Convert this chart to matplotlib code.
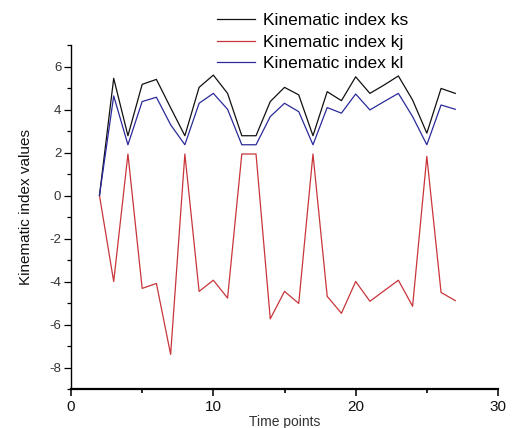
import matplotlib
matplotlib.use("Agg")
import matplotlib.pyplot as plt
from matplotlib.ticker import MultipleLocator

plt.rcParams['font.family'] = ['Liberation Sans', 'DejaVu Sans']
plt.rcParams['axes.unicode_minus'] = False

x = list(range(2, 28))
ks = [0, 5.45, 2.78, 5.17, 5.40, 4.08, 2.78, 5.03, 5.60, 4.75,
      2.78, 2.78, 4.37, 5.03, 4.68, 2.78, 4.83, 4.41, 5.52, 4.75,
      5.14, 5.56, 4.44, 2.90, 4.98, 4.75]
kj = [0, -4.00, 1.93, -4.32, -4.09, -7.39, 1.93, -4.46, -3.94, -4.77,
      1.93, 1.93, -5.74, -4.46, -5.02, 1.93, -4.69, -5.48, -4.00, -4.92,
      -4.43, -3.94, -5.15, 1.82, -4.51, -4.89]
kl = [0, 4.63, 2.36, 4.37, 4.57, 3.29, 2.36, 4.29, 4.75, 4.01,
      2.36, 2.36, 3.67, 4.29, 3.90, 2.36, 4.09, 3.83, 4.72, 3.98,
      4.37, 4.75, 3.67, 2.36, 4.21, 4.01]
labels = ["Kinematic index ks", "Kinematic index kj", "Kinematic index kl"]

fig = plt.figure(figsize=(5.15, 4.28), dpi=100)
ax = fig.add_axes([71/515, 1-389/428, (498-71)/515, (389-45)/428])

l1, = ax.plot(x, ks, color='#111111', lw=0.9)
l2, = ax.plot(x, kj, color='#c8353a', lw=0.9)
l3, = ax.plot(x, kl, color='#2a2a9a', lw=0.9)

ax.set_xlim(0, 30)
ax.set_ylim(-9, 7)
ax.xaxis.set_major_locator(MultipleLocator(10))
ax.xaxis.set_minor_locator(MultipleLocator(5))
ax.yaxis.set_minor_locator(MultipleLocator(1))
ax.set_yticks([-8, -6, -4, -2, 0, 2, 4, 6])

for s in ['top', 'right']:
    ax.spines[s].set_visible(False)
ax.spines['left'].set_linewidth(1.0)
ax.spines['bottom'].set_linewidth(1.6)

ax.tick_params(axis='x', which='major', direction='out', length=5, width=1.2,
               labelsize=11, pad=3, colors='#111111')
ax.tick_params(axis='x', which='minor', direction='out', length=3, width=1.2)
ax.tick_params(axis='y', which='major', direction='out', length=5, width=0.9,
               labelsize=9.5, pad=2, labelcolor='#333333')
ax.tick_params(axis='y', which='minor', direction='out', length=3, width=0.9)

ax.set_ylabel("Kinematic index values", fontsize=11, color='#111111')
ax.yaxis.set_label_coords(-0.088, 0.53)
ax.set_xlabel("Time points", fontsize=10, color='#333333')
ax.xaxis.set_label_coords(0.5, -0.075)

fig.legend([l1, l2, l3], labels, loc='upper left',
           bbox_to_anchor=(217/515, 1-13/428), frameon=False,
           fontsize=12.5, handlelength=2.2, handletextpad=0.45,
           labelspacing=0.37, borderpad=0, borderaxespad=0)

fig.savefig("out.png", dpi=100)
